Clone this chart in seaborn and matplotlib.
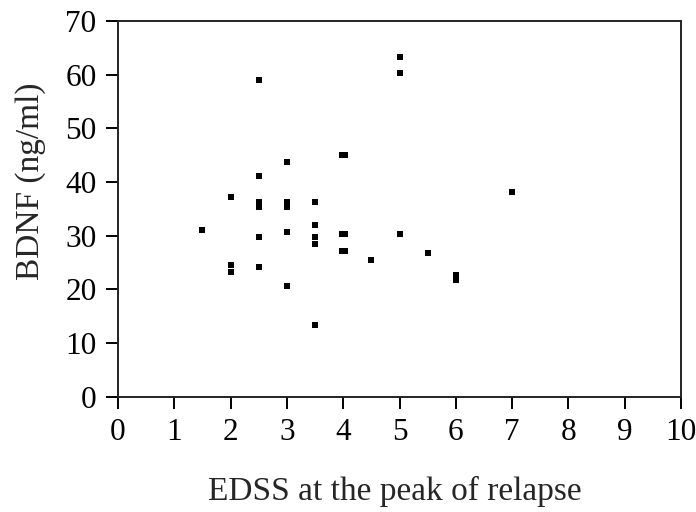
import matplotlib
matplotlib.use("Agg")
import matplotlib.pyplot as plt
import seaborn as sns
import pandas as pd

# EDSS score at the peak of relapse and serum BDNF level for each patient
edss = [1.5, 2.0, 2.0, 2.0,
        2.5, 2.5, 2.5, 2.5, 2.5, 2.5,
        3.0, 3.0, 3.0, 3.0, 3.0,
        3.5, 3.5, 3.5, 3.5, 3.5,
        3.97, 4.03, 3.97, 4.03, 3.97, 4.03,
        4.5, 5.0, 5.0, 5.0, 5.5, 6.0, 6.0, 7.0]
bdnf = [31.1, 37.2, 24.6, 23.3,
        59.0, 41.2, 36.2, 35.3, 29.8, 24.2,
        43.8, 36.2, 35.3, 30.7, 20.7,
        36.3, 32.0, 29.8, 28.5, 13.4,
        45.1, 45.1, 30.4, 30.4, 27.2, 27.2,
        25.5, 63.3, 60.3, 30.4, 26.8, 22.6, 21.8, 38.2]

x_ticks = list(range(0, 11))
y_ticks = list(range(0, 71, 10))

df = pd.DataFrame({"EDSS": edss, "BDNF": bdnf})

sns.set_style("white")
plt.rcParams["font.family"] = ["Liberation Serif", "DejaVu Serif"]

fig = plt.figure(figsize=(6.96, 5.12), dpi=100)
ax = fig.add_axes([0.1695, 0.225, 0.809, 0.734])

sns.scatterplot(data=df, x="EDSS", y="BDNF", ax=ax, marker="s", s=15,
                color="black", linewidth=0)

ax.set_xlim(0, 10)
ax.set_ylim(0, 70)
ax.set_xticks(x_ticks)
ax.set_yticks(y_ticks)
ax.tick_params(axis="both", which="major", direction="out", length=8.5, width=1.4,
               labelsize=22.5, colors="black", pad=7, bottom=True, left=True)
for sp in ax.spines.values():
    sp.set_visible(True)
    sp.set_color("#222222")
    sp.set_linewidth(1.4)

ax.set_xlabel("EDSS at the peak of relapse", fontsize=24)
ax.set_ylabel("BDNF (ng/ml)", fontsize=24)
ax.xaxis.set_label_coords(0.492, -0.21)
ax.yaxis.set_label_coords(-0.128, 0.574)

fig.savefig("out.png", dpi=100)
